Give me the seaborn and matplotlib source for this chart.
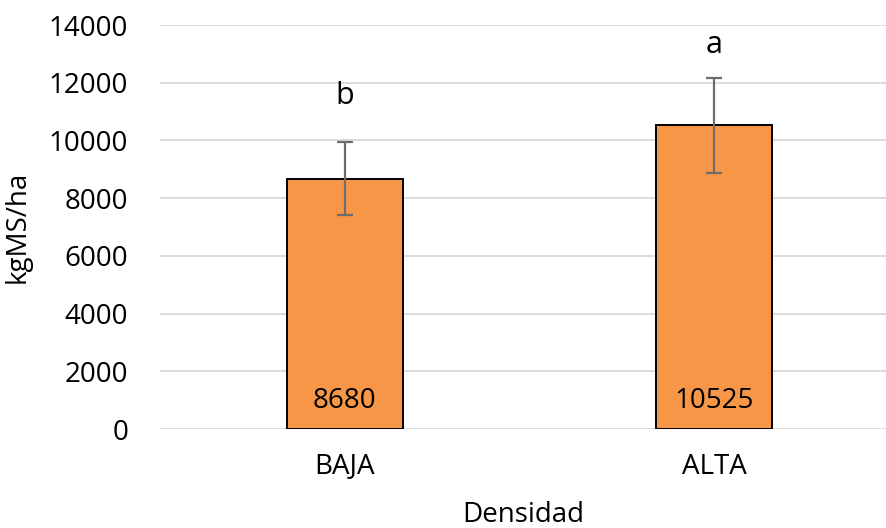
import matplotlib
matplotlib.use("Agg")
import matplotlib.pyplot as plt
import seaborn as sns
import pandas as pd

categories = ["BAJA", "ALTA"]
means = [8680, 10525]
errors = [1255, 1640]
letters = ["b", "a"]

sns.set_theme(style="white")
plt.rcParams["font.family"] = ["Open Sans", "DejaVu Sans"]

df = pd.DataFrame({"Densidad": categories, "kgMS/ha": means})

fig = plt.figure(figsize=(8.86, 5.28), dpi=100)
ax = fig.add_axes([160 / 886, 99 / 528, 726 / 886, 404 / 528])

sns.barplot(data=df, x="Densidad", y="kgMS/ha", color="#F79646", width=0.314,
            edgecolor="black", linewidth=1.4, saturation=1, errorbar=None,
            ax=ax, zorder=3)

ax.errorbar(range(len(categories)), means, yerr=errors, fmt="none",
            ecolor="#6d6d6d", elinewidth=1.6, capsize=6, capthick=1.6, zorder=4)

# significance letters sit above the error bars, means are printed near the base
letter_gap = [1330, 870]
for i, (m, e, lt) in enumerate(zip(means, errors, letters)):
    ax.text(i, m + e + letter_gap[i], lt, ha="center", va="baseline",
            fontsize=22, color="black")
    ax.text(i, 730, f"{m}", ha="center", va="baseline", fontsize=20,
            color="black", zorder=5)

ax.set_ylim(0, 14000)
ax.set_xlim(-0.501, 1.466)
ax.set_yticks(range(0, 14001, 2000))
ax.yaxis.grid(True, color="#d9d9d9", linewidth=1.3, zorder=0)
ax.set_axisbelow(True)
for s in ax.spines.values():
    s.set_visible(False)

ax.tick_params(axis="both", length=0, labelsize=20, colors="black")
ax.tick_params(axis="y", pad=23)
ax.tick_params(axis="x", pad=17)
ax.set_xlabel("Densidad", fontsize=20, labelpad=15, color="black")
ax.set_ylabel("kgMS/ha", fontsize=20, labelpad=12, color="black")

fig.savefig("out.png", dpi=100)
